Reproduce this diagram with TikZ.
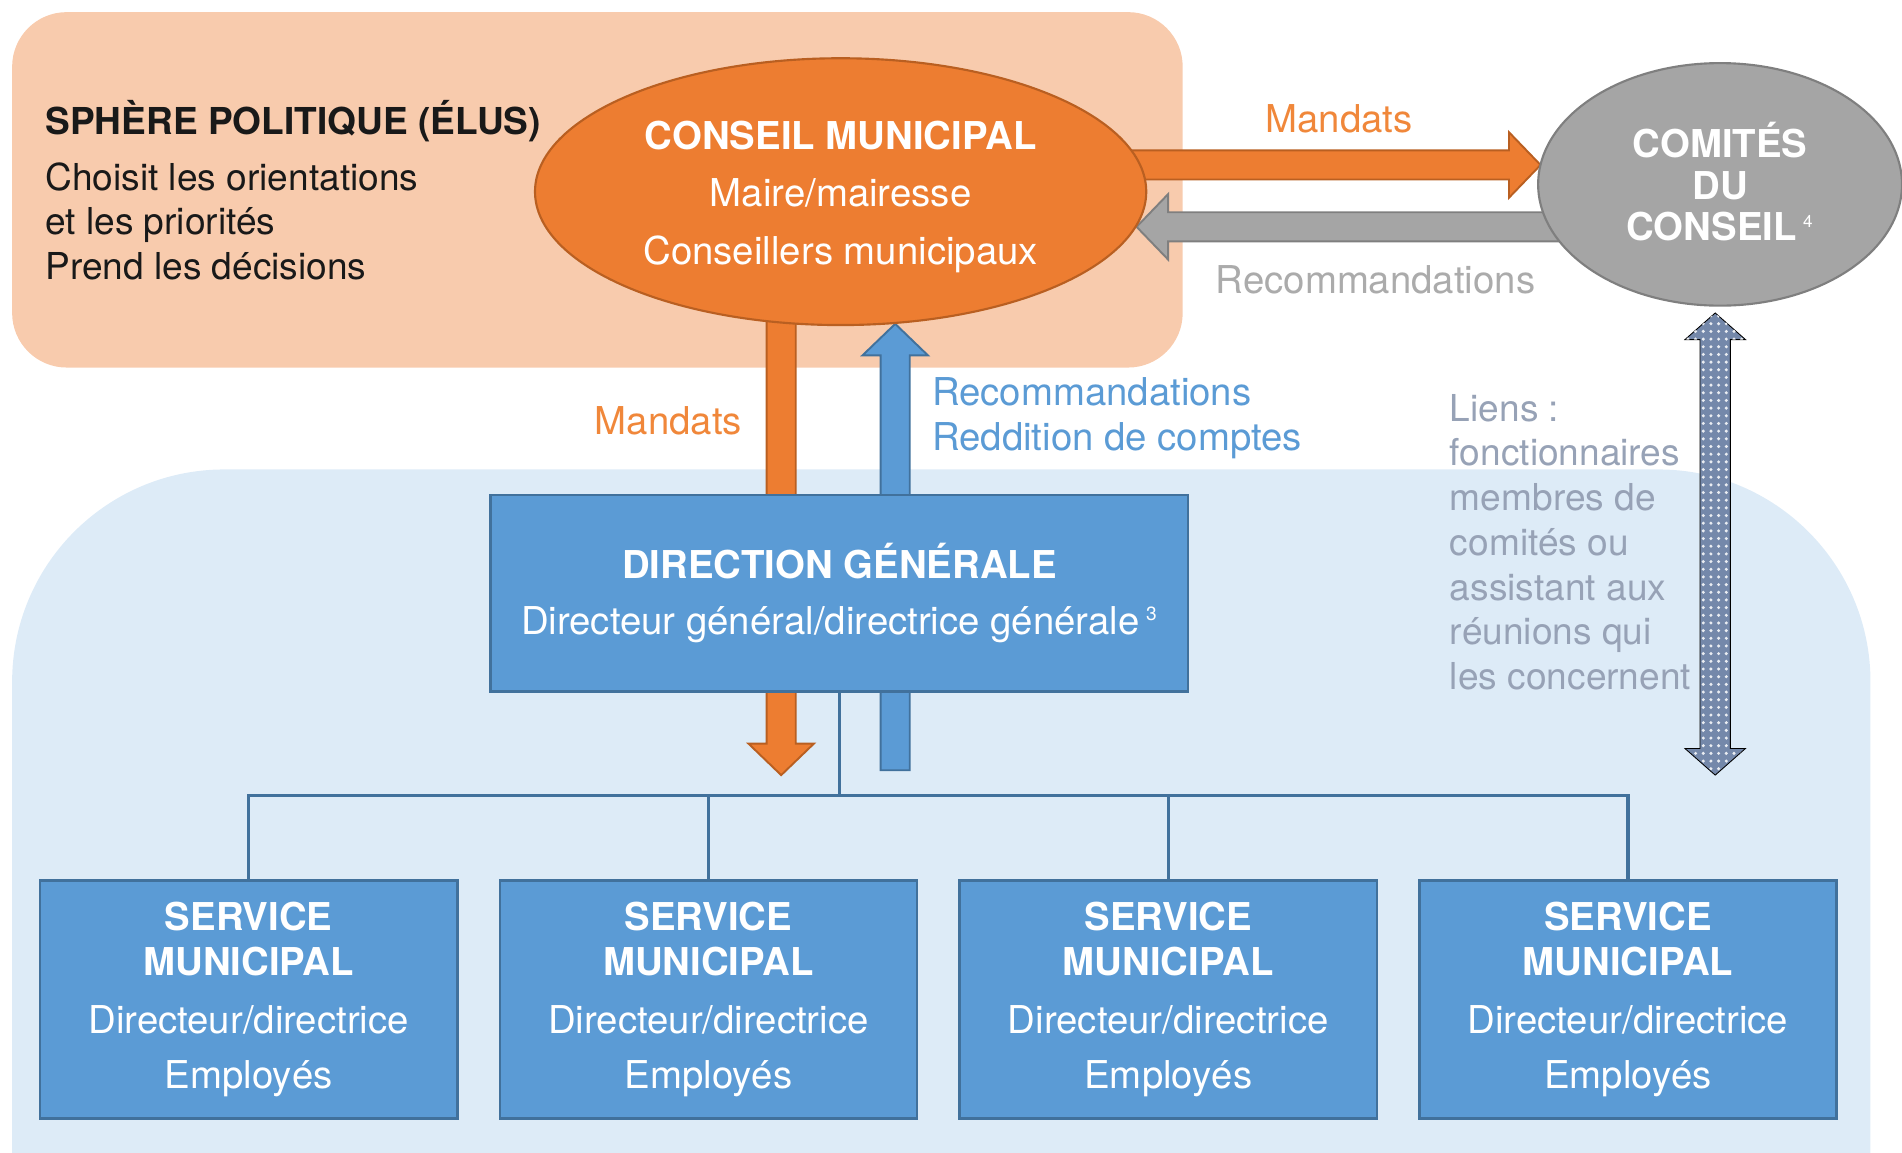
\documentclass[tikz,border=0pt]{standalone}
\usepackage{fontspec}
\setmainfont{TeX Gyre Heros}
\usepackage{tikz}
\usetikzlibrary{positioning,calc,shapes.geometric,patterns.meta}

\definecolor{orgorange}{HTML}{ED7D31}
\definecolor{orgorangedk}{HTML}{B95F21}
\definecolor{orgorangetxt}{HTML}{F0873A}
\definecolor{orgblue}{HTML}{5B9BD5}
\definecolor{orgbluedk}{HTML}{41719C}
\definecolor{orggray}{HTML}{A5A5A5}
\definecolor{orggraydk}{HTML}{7F7F7F}
\definecolor{orggraytxt}{HTML}{ABABAB}
\definecolor{peach}{HTML}{F8CBAD}
\definecolor{paleblue}{HTML}{DDEBF7}
\definecolor{lienstxt}{HTML}{97A2B6}
\definecolor{dotblue}{HTML}{7488AA}

\newcommand{\orgfont}{\fontsize{18}{21}\selectfont}
\newcommand{\smallorgfont}{\fontsize{17.4}{21}\selectfont}

\pgfdeclarelayer{back}
\pgfdeclarelayer{arrowlayer}
\pgfsetlayers{back,arrowlayer,main}

\newcommand{\shaftw}{0.24cm}
\newcommand{\headw}{0.54cm}
\newcommand{\headl}{0.52cm}

% block arrow, tail #2 -> tip #3
\newcommand{\fatarrow}[3]{%
  \coordinate (fa-h) at ($(#3)!\headl!(#2)$);
  \draw[#1] ($(#2)!\shaftw!90:(#3)$) -- ($(fa-h)!\shaftw!90:(#3)$)
    -- ($(fa-h)!\headw!90:(#3)$) -- (#3) -- ($(fa-h)!\headw!270:(#3)$)
    -- ($(fa-h)!\shaftw!270:(#3)$) -- ($(#2)!\shaftw!270:(#3)$) -- cycle;
}
% block arrow with two heads
\newcommand{\fatdarrow}[3]{%
  \coordinate (fa-a) at ($(#2)!\headl!(#3)$);
  \coordinate (fa-b) at ($(#3)!\headl!(#2)$);
  \draw[#1] (#2) -- ($(fa-a)!\headw!90:(#3)$) -- ($(fa-a)!\shaftw!90:(#3)$)
    -- ($(fa-b)!\shaftw!90:(#3)$) -- ($(fa-b)!\headw!90:(#3)$) -- (#3)
    -- ($(fa-b)!\headw!270:(#3)$) -- ($(fa-b)!\shaftw!270:(#3)$)
    -- ($(fa-a)!\shaftw!270:(#3)$) -- ($(fa-a)!\headw!270:(#3)$) -- cycle;
}

\begin{document}
\begin{tikzpicture}[x=0.02cm, y=-0.02cm,
    every node/.style={font=\orgfont},
    ellipsebox/.style={ellipse, inner sep=0pt, line width=1pt},
    bluebox/.style={rectangle, fill=orgblue, draw=orgbluedk, line width=1.2pt, text=white, align=center, inner sep=0pt},
    svc/.style={bluebox, minimum width=6.88cm, minimum height=3.92cm},
    lbl/.style={inner sep=0pt},
    tree/.style={draw=orgbluedk, line width=1.6pt},
    orangefat/.style={fill=orgorange, draw=orgorangedk, line width=0.9pt},
    bluefat/.style={fill=orgblue, draw=orgbluedk, line width=0.9pt},
    grayfat/.style={fill=orggray, draw=orggraydk, line width=0.9pt},
    dotfat/.style={fill=dotblue, postaction={pattern={Dots[distance=3.6pt, radius=0.8pt]}, pattern color=white!85!dotblue}},
  ]
  \useasboundingbox (0,0) rectangle (1568,950);

  \begin{pgfonlayer}{back}
    \fill[peach, rounded corners=0.9cm] (10,10) rectangle (975,303);
    \fill[paleblue, rounded corners=3.5cm] (10,1250) -- (10,387) -- (1542,387) -- (1542,1250) -- cycle;
  \end{pgfonlayer}

  \node[ellipsebox, fill=orgorange, draw=orgorangedk, minimum width=10.08cm, minimum height=4.4cm] (cm) at (693,158) {};
  \node[lbl, text=white, align=center] (cmtext) at (693,162)
    {\textbf{CONSEIL MUNICIPAL}\\[6pt] Maire/mairesse\\[6pt] Conseillers municipaux};
  \node[ellipsebox, fill=orggray, draw=orggraydk, minimum width=6cm, minimum height=4cm] (cc) at (1418,152) {};
  \node[lbl, text=white, align=center] (cctext) at (1418,150)
    {\textbf{COMITÉS}\\[-1.5pt] \textbf{DU}\\[-1.5pt] \textbf{CONSEIL}\,\textsuperscript{\fontsize{8}{8}\selectfont 4}};

  \node[bluebox, minimum width=11.5cm, minimum height=3.24cm] (dg) at (692,489)
    {\textbf{DIRECTION GÉNÉRALE}\\[5pt] Directeur général/directrice générale\,\textsuperscript{\fontsize{9}{9}\selectfont 3}};

  \node[svc] (s1) at (205,824)
    {\textbf{SERVICE}\\ \textbf{MUNICIPAL}\\[6pt] Directeur/directrice\\[5pt] Employés};
  \node[svc, right=0.66cm of s1] (s2)
    {\textbf{SERVICE}\\ \textbf{MUNICIPAL}\\[6pt] Directeur/directrice\\[5pt] Employés};
  \node[svc, right=0.66cm of s2] (s3)
    {\textbf{SERVICE}\\ \textbf{MUNICIPAL}\\[6pt] Directeur/directrice\\[5pt] Employés};
  \node[svc, right=0.66cm of s3] (s4)
    {\textbf{SERVICE}\\ \textbf{MUNICIPAL}\\[6pt] Directeur/directrice\\[5pt] Employés};

  \coordinate (bus) at (692,656);
  \draw[tree] (dg.south) -- (bus);
  \foreach \s in {s1,s2,s3,s4}
    \draw[tree] (\s.north) |- (bus);

  % arrows
  \coordinate (mhtail) at (920,136);  \coordinate (mhtip) at (1270,136);
  \coordinate (rhtail) at (1300,187); \coordinate (rhtip) at (937,187);
  \coordinate (mvtail) at (644,250);  \coordinate (mvtip) at (644,639);
  \coordinate (rvtail) at (738,635);  \coordinate (rvtip) at (738,267);
  \coordinate (ltop) at (1414,258);   \coordinate (lbot) at (1414,639);
  \begin{pgfonlayer}{arrowlayer}
    \fatarrow{orangefat}{mhtail}{mhtip}
    \fatarrow{grayfat}{rhtail}{rhtip}
    \fatarrow{orangefat}{mvtail}{mvtip}
    \fatarrow{bluefat}{rvtail}{rvtip}
    \renewcommand{\shaftw}{0.25cm}
    \renewcommand{\headw}{0.5cm}
    \renewcommand{\headl}{0.44cm}
    \fatdarrow{dotfat}{ltop}{lbot}
  \end{pgfonlayer}

  \node[lbl, align=left, anchor=west, text=black!90, font=\smallorgfont] (sphere) at (37,157)
    {\textbf{SPHÈRE POLITIQUE (ÉLUS)}\\[5pt] Choisit les orientations\\ et les priorités\\ Prend les décisions};
  \node[lbl, text=orgorangetxt] (mandh) at (1104,98) {Mandats};
  \node[lbl, text=orggraytxt] (rech) at (1134,231) {Recommandations};
  \node[lbl, text=orgorangetxt] (mandv) at (551,347) {Mandats};
  \node[lbl, align=left, anchor=west, text=orgblue] (recv) at (768,345)
    {Recommandations\\ Reddition de comptes};
  \node[lbl, align=left, anchor=west, text=lienstxt, font=\smallorgfont] (liens) at (1195,447)
    {Liens :\\ fonctionnaires\\ membres de\\ comités ou\\ assistant aux\\ réunions qui\\ les concernent};
\end{tikzpicture}
\end{document}
